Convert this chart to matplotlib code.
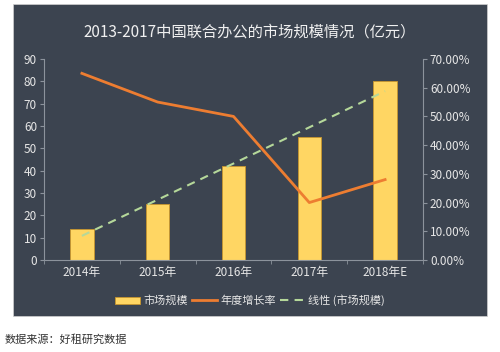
import numpy as np
import matplotlib
matplotlib.use("Agg")
import matplotlib.pyplot as plt
from matplotlib.patches import Rectangle
from matplotlib.ticker import FuncFormatter

plt.rcParams['font.family'] = ['Noto Sans CJK SC', 'DejaVu Sans']

# data
years = ['2014年', '2015年', '2016年', '2017年', '2018年E']
market = [14, 25, 42, 55, 80]
growth = [65, 55, 50, 20, 28]   # percent

title = '2013-2017中国联合办公的市场规模情况（亿元）'
source = '数据来源：好租研究数据'

bg = '#3c4450'
txt = '#e6e6e6'
axc = '#8c939c'

fig = plt.figure(figsize=(5, 3.52), dpi=100)
fig.patch.set_facecolor('white')
fig.patches.append(Rectangle((0.026, 0.102), 0.948, 0.887, transform=fig.transFigure,
                             facecolor=bg, edgecolor='#d0d0d0', lw=0.5, zorder=-10))

ax = fig.add_axes([0.088, 0.2614, 0.758, 0.571])
ax.set_facecolor('none')
x = np.arange(len(years))
ax.bar(x, market, width=0.31, color='#ffd663', edgecolor='#c8962e', lw=0.6, zorder=2,
       label='市场规模')

# linear trend of the bars
k, b = np.polyfit(x, market, 1)
ax.plot(x, k * x + b, ls=(0, (4, 3)), color='#b5d89a', lw=1.5, zorder=3, label='线性 (市场规模)')

ax.set_xlim(-0.5, len(years) - 0.5)
ax.set_ylim(0, 90)
ax.set_yticks(range(0, 91, 10))
ax.set_xticks(x)
ax.set_xticklabels(years)
ax.set_xticks(np.arange(-0.5, len(years), 1), minor=True)
ax.tick_params(axis='x', which='major', length=0, colors=txt, labelsize=8.5, pad=4)
ax.tick_params(axis='x', which='minor', length=3, color=axc)
ax.tick_params(axis='y', length=3, color=axc, labelcolor=txt, labelsize=8.5, pad=2)
for s in ['top', 'right']:
    ax.spines[s].set_visible(False)
ax.spines['left'].set_color(axc)
ax.spines['bottom'].set_color(axc)

ax2 = ax.twinx()
ax2.plot(x, growth, color='#ed7d31', lw=2, zorder=4, label='年度增长率')
ax2.set_ylim(0, 70)
ax2.set_yticks(range(0, 71, 10))
ax2.yaxis.set_major_formatter(FuncFormatter(lambda v, p: '%.2f%%' % v))
ax2.tick_params(axis='y', length=3, color=axc, labelcolor=txt, labelsize=8.5, pad=2)
for s in ['top', 'left', 'bottom']:
    ax2.spines[s].set_visible(False)
ax2.spines['right'].set_color(axc)

h1, l1 = ax.get_legend_handles_labels()
h2, l2 = ax2.get_legend_handles_labels()
handles = [h1[1], h2[0], h1[0]]
labels = [l1[1], l2[0], l1[0]]
leg = fig.legend(handles, labels, loc='center', bbox_to_anchor=(0.5, 0.147), ncol=3,
                 frameon=False, fontsize=8, labelcolor=txt, handlelength=2.2,
                 handletextpad=0.3, columnspacing=0.4, handleheight=0.6)

fig.text(0.5, 0.909, title, ha='center', va='center', color='#f0f0f0', fontsize=11)
fig.text(0.01, 0.035, source, ha='left', va='center', color='#333333', fontsize=8)

plt.savefig('out.png', dpi=100)
